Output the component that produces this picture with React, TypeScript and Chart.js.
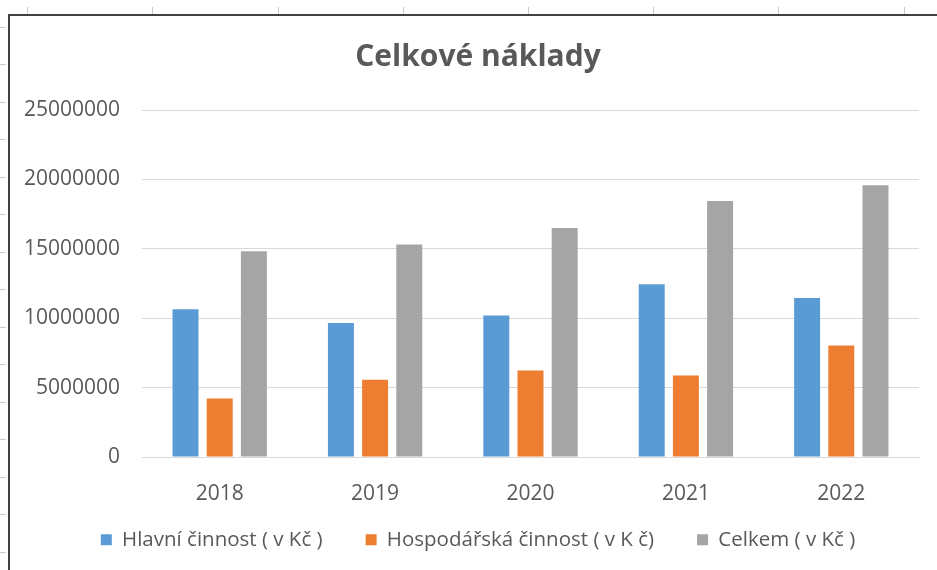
import React, { useEffect, useRef } from "react";
import { Chart, registerables } from "chart.js";

Chart.register(...registerables);

const categories = ["2018", "2019", "2020", "2021", "2022"];
const hlavniCinnost = [10640000, 9650000, 10200000, 12440000, 11450000];
const hospodarskaCinnost = [4220000, 5570000, 6240000, 5880000, 8040000];
const celkem = [14830000, 15310000, 16500000, 18450000, 19580000];
const seriesNames = ["Hlavní činnost ( v Kč )", "Hospodářská činnost ( v K č)", "Celkem ( v Kč )"];
const titleText = "Celkové náklady";

const FONT = "'Open Sans', 'Noto Sans', sans-serif";
const TEXT = "#595959";

const legendShift = {
  id: "legendShift",
  afterLayout(chart: any) {
    const lg = chart.legend;
    if (lg) {
      lg.top -= 34;
      lg.bottom -= 34;
    }
  },
};

export default function App() {
  const ref = useRef<HTMLCanvasElement | null>(null);

  useEffect(() => {
    document.body.style.margin = "0";
    document.body.style.overflow = "hidden";
    const canvas = ref.current;
    if (!canvas) return;
    const chart = new Chart(canvas, {
      type: "bar",
      data: {
        labels: categories,
        datasets: [
          { label: seriesNames[0], data: hlavniCinnost, backgroundColor: "#5B9BD5" },
          { label: seriesNames[1], data: hospodarskaCinnost, backgroundColor: "#ED7D31" },
          { label: seriesNames[2], data: celkem, backgroundColor: "#A5A5A5" },
        ],
      },
      plugins: [legendShift],
      options: {
        animation: false,
        responsive: false,
        maintainAspectRatio: false,
        datasets: { bar: { categoryPercentage: 0.66, barPercentage: 0.76 } },
        layout: { padding: { left: 0, right: 0, top: 0, bottom: 0 } },
        plugins: {
          tooltip: { enabled: false },
          title: {
            display: true,
            text: titleText,
            color: TEXT,
            font: { family: FONT, size: 30, weight: "bold" },
            padding: { top: 23, bottom: 35 },
          },
          legend: {
            display: true,
            position: "bottom",
            labels: {
              color: TEXT,
              font: { family: FONT, size: 20.5 },
              boxWidth: 11,
              boxHeight: 11,
              padding: 43,
            },
          },
        },
        scales: {
          x: {
            grid: { display: false, drawTicks: false },
            border: { display: true, color: "#D9D9D9", width: 1 },
            ticks: { color: TEXT, font: { family: FONT, size: 21 }, padding: 24 },
            afterFit: (s: any) => { s.height = 63.5; },
          },
          y: {
            min: 0,
            max: 25000000,
            ticks: {
              stepSize: 5000000,
              color: TEXT,
              font: { family: FONT, size: 21 },
              padding: 22,
              callback: (v: any) => String(v),
            },
            grid: { color: "#D9D9D9", drawTicks: false },
            border: { display: false },
            afterFit: (s: any) => { s.width = 132; },
          },
          yRight: {
            position: "right",
            display: true,
            grid: { display: false, drawTicks: false },
            border: { display: false },
            ticks: { display: false },
            afterFit: (s: any) => { s.width = 27; },
          },
        },
      },
    });
    return () => chart.destroy();
  }, []);

  const topTicks = [27, 152, 278, 403, 528, 653, 778, 904];
  const leftTicks = [27, 64, 102, 139, 177, 214, 252, 289, 327, 364, 402, 439, 477, 514, 552];

  return (
    <div style={{ position: "fixed", left: 0, top: 0, width: 937, height: 570, overflow: "hidden", background: "#fff" }}>
      {topTicks.map((x) => (
        <div key={"t" + x} style={{ position: "absolute", left: x, top: 7, width: 1, height: 8, background: "#C8C8C8" }} />
      ))}
      {leftTicks.map((y) => (
        <div key={"l" + y} style={{ position: "absolute", left: 0, top: y, width: 6, height: 1, background: "#C8C8C8" }} />
      ))}
      <div
        style={{
          position: "absolute",
          left: 8,
          top: 14,
          width: 940,
          height: 600,
          borderLeft: "2px solid #404040",
          borderTop: "2px solid #404040",
          background: "#fff",
        }}
      >
        <canvas ref={ref} width={936} height={578} style={{ display: "block", width: 936, height: 578 }} />
      </div>
    </div>
  );
}
